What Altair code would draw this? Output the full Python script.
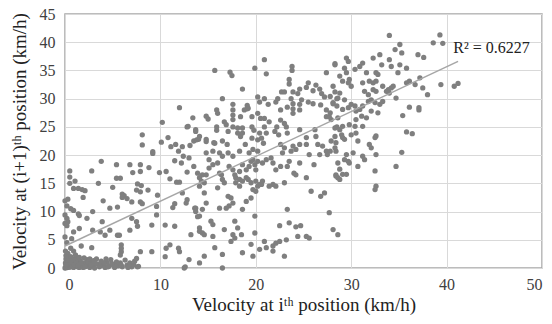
import altair as alt
import pandas as pd

# ---- data (x = velocity at i-th, y = velocity at (i+1)-th) ----
bottom_cluster = [(0,0),(0.1,0.3),(0.2,0.8),(0.3,0.1),(0.4,1.2),(0.5,0.5),(0.6,0.2),(0.7,1.5),(0.8,0.7),(0.9,0.1),
    (1.0,1.0),(1.1,0.4),(1.2,1.8),(1.3,0.2),(1.4,0.8),(1.5,0.1),(1.6,1.3),(1.8,0.5),(1.9,0.1),(2.0,0.9),
    (2.2,0.3),(2.3,1.5),(2.5,0.6),(2.6,0.1),(2.8,1.1),(3.0,0.4),(3.1,0.0),(3.3,1.6),(3.5,0.7),(3.6,0.2),
    (3.8,1.2),(4.0,0.5),(4.2,0.1),(4.4,1.0),(4.6,0.3),(4.8,1.5),(5.0,0.6),(5.2,0.1),(5.4,1.1),(5.6,0.4),
    (5.8,0.9),(6.0,0.2),(6.3,1.4),(6.5,0.5),(6.8,0.9),(7.0,0.2),(7.3,1.2),(0.1,2.2),(0.3,2.6),(0.6,3.5),
    (0.2,4.5),(0.1,1.6),(0.05,0.9),(0.15,0.05),(0.45,0.15),(0.25,1.9),(0.05,3.0),
    (0.35,0.6),(0.55,1.0),(0.75,0.3),(0.95,0.6),(1.15,1.3),(1.35,0.5),(1.7,0.9),(2.1,0.2),(2.4,1.0),(2.7,0.5),
    (3.2,0.8),(3.7,0.4),(4.1,0.9),(4.5,0.2),(4.9,0.8),(5.3,0.3),(5.9,0.5),(6.6,0.1),(7.2,0.6),(7.7,0.3),
    (0.1,0.6),(0.3,1.4),(0.6,2.0),(0.9,1.6),(1.1,2.3),(1.5,1.9),(2.0,1.8),(2.6,1.6),(3.0,1.3),(4.3,1.6)]

low_left = [(9.2,20.3),(3.8,18.9),(5.4,18.3),(6.8,18.3),(7.9,18.3),(7.9,17.1),(0.5,17.2),(0.5,16.1),(2.8,17.2),(7.1,16.9),
    (9.9,16.9),(10.6,17.1),(8.8,17.8),(5.4,15.9),(5.8,15.9),(1.05,15.4),(3.5,15.0),(5.0,14.3),(7.6,14.9),(8.0,14.6),
    (11.0,15.8),(11.7,15.2),(12.0,15.2),(0.9,14.1),(1.4,14.1),(1.8,13.9),(2.1,13.7),(0.5,15.0),(1.9,12.5),(7.5,13.8),
    (7.9,13.5),(8.7,13.8),(6.0,13.1),(6.2,12.8),(6.0,12.5),(6.5,12.3),(4.0,11.9),(4.7,10.6),(5.5,10.8),(7.0,11.7),
    (7.9,11.7),(8.1,11.4),(9.7,12.9),(9.6,10.9),(11.5,11.4),(11.3,10.7),(12.8,12.1),(13.6,10.6),(0.0,11.9),(0.3,12.2),
    (0.2,11.0),(0.6,10.5),(0.9,10.2),(0.0,9.4),(0.2,8.8),(0.3,8.2),(0.0,7.9),(0.2,7.5),(1.4,9.6),(1.5,9.3),
    (2.3,8.8),(2.9,10.0),(3.9,8.2),(4.7,6.7),(5.5,5.8),(5.7,5.8),(6.8,6.7),(7.0,8.8),(7.5,8.2),(7.6,7.4),
    (9.1,7.6),(9.6,9.4),(10.5,7.6),(11.5,7.4),(14.1,7.1),(13.7,10.6),(0.9,6.4),(1.5,7.0),(2.9,6.7),(3.7,6.4),
    (4.2,5.8),(0.0,5.5),(0.7,5.2),(1.7,3.9),(2.8,3.6),(0.9,3.0),(5.9,4.1),(5.9,3.5),(5.9,2.9),(5.8,2.3),
    (7.5,1.7),(7.9,2.9),(9.1,2.9),(10.6,3.5),(11.0,4.1),(11.9,3.5),(10.5,2.0),(12.6,0.2),(7.6,0.2),
    (13.0,1.5),(12.5,0.0),(12.0,2.9),(13.2,5.9),(12.3,13.3),(12.7,11.5),(13.7,10.0),(13.9,9.1),
    (12.4,19.8),(13.0,19.5),(12.2,18.6),(13.5,18.0),(12.8,17.0),(11.5,19.0),(13.9,16.8)]

mid_upper_left = [(12.0,28.4),(10.2,25.8),(13.4,26.6),(12.8,25.0),(13.7,24.5),(13.7,24.2),(8.1,23.6),(8.1,21.8),(10.8,23.1),(10.1,22.3),
    (11.6,21.9),(11.1,21.5),(12.3,21.5),(13.1,21.7),(13.5,22.5),(13.8,22.7),(14.0,22.8),(11.9,20.7),(9.2,20.6),
    (12.9,25.1),(15.0,26.4),(16.0,27.4),(17.6,28.0),(17.6,26.3),(18.8,28.0),(19.2,28.3),(14.8,22.4),(15.7,22.1),
    (16.9,25.4),(17.1,24.2),(18.1,24.8),(18.6,24.8)]

upper_mid = [(20.9,36.9),(19.9,35.4),(23.8,35.7),(23.8,35.0),(15.7,35.0),(17.3,34.7),(17.5,34.1),(21.1,34.4),(28.3,36.2),(27.4,34.6),
    (18.6,31.7),(23.5,33.4),(23.5,32.6),(25.5,32.8),(26.3,32.4),(16.5,30.0),(14.8,26.9),(15.9,28.0),(17.6,29.0),(19.1,28.8),
    (19.1,28.2),(20.2,30.3),(20.4,29.4),(20.9,30.0),(21.3,29.0),(22.7,31.2),(23.0,31.2),(22.3,30.0),(22.1,29.4),(23.9,31.2),
    (24.4,30.9),(24.6,31.7),(25.3,32.0),(26.0,31.4),(26.7,31.7),(26.9,30.9),(27.2,30.3),(23.7,30.0),(23.9,29.1),(24.8,29.8),
    (24.6,29.0),(25.5,29.4),(26.0,29.1),(23.3,28.5),(23.9,28.2),(24.6,28.0),(22.6,28.0),(28.3,31.2),(28.5,30.0),(28.1,29.1),
    (27.4,28.0),(27.7,26.8),(27.4,26.8),(26.8,28.9),(17.6,27.1),(18.4,26.8),(19.6,26.8),(20.2,27.4),(20.5,26.5),(20.9,26.5),
    (21.4,25.9),(22.6,26.2),(23.0,25.6),(23.2,25.0),(23.9,27.4),(22.2,25.0),(22.0,24.2),(22.4,23.6),(23.3,23.9),(24.6,24.5),
    (25.3,23.1),(26.2,24.5),(26.3,23.3),(26.5,21.9),(25.3,21.9),(28.5,25.0),(28.3,23.3),(27.9,22.5),(15.9,25.0),(15.9,24.4),
    (16.7,25.9),(17.6,25.0),(18.1,23.9),(18.4,23.3),(18.6,23.9),(19.6,25.0),(19.8,24.4),(20.4,23.9),(20.2,22.7),(20.9,25.0),
    (21.1,23.9),(20.6,23.0),(20.8,22.1),(19.6,23.0),(18.9,21.9),(16.5,22.5),(17.0,21.9),(15.6,22.2),(14.8,22.8),(14.1,23.3),
    (22.6,21.9),(23.0,21.3),(23.9,21.6),(24.6,21.9),(27.0,21.6)]

lower_mid = [(14.8,20.4),(15.5,20.7),(16.2,20.4),(16.5,19.8),(17.1,20.4),(17.6,19.8),(18.3,20.7),(19.3,20.4),(19.7,21.0),(20.2,20.7),
    (15.1,19.2),(15.5,18.3),(16.0,18.6),(15.1,17.7),(14.4,16.5),(14.8,16.5),(14.1,16.0),(16.4,16.5),(17.2,18.0),(17.6,17.4),
    (17.8,16.5),(18.3,17.1),(18.6,18.3),(19.0,17.4),(19.3,18.0),(19.5,18.9),(19.7,19.2),(19.9,18.3),(20.0,17.4),(20.2,18.9),
    (20.7,18.6),(21.1,19.2),(21.6,19.5),(21.8,18.6),(22.1,17.4),(22.6,18.0),(23.3,18.0),(23.5,18.9),(24.0,16.8),(24.2,16.5),
    (24.6,18.6),(25.3,16.0),(26.1,18.3),(25.6,20.1),(26.7,20.1),(27.4,20.7),(27.5,20.1),(28.4,20.7),(28.6,18.6),(28.4,16.5),
    (22.8,20.4),(23.7,20.7),(24.2,21.0),(17.9,16.0),(18.3,15.7),(18.6,15.4),(17.9,15.1),(18.3,14.5),(19.0,16.0),(19.2,15.7),
    (19.5,15.1),(20.0,15.4),(20.7,15.4),(20.2,14.5),(20.4,14.8),(19.7,13.9),(20.0,13.6),(16.2,16.8),(16.5,15.7),(16.7,15.1),
    (16.0,14.2),(14.6,13.3),(14.3,15.4),(14.6,15.1),(14.1,14.5),(21.4,14.5),(21.8,14.8),(22.1,14.5),(23.0,15.1),(20.6,14.8),
    (17.1,12.7),(17.4,12.4),(17.6,11.5),(17.2,11.0),(16.9,10.6),(16.2,10.6),(14.8,11.5),(14.4,10.4),(18.6,10.4),(19.0,11.8),
    (19.5,12.4),(25.8,13.6),(27.2,13.3),(26.8,12.7),(23.3,10.4),(27.7,9.8),(28.6,16.0),(14.1,9.2),(15.3,8.3),(15.5,7.7),
    (16.7,6.8),(17.8,8.3),(18.1,7.1),(19.9,9.2),(22.5,7.5),(23.5,8.0),(24.2,7.3),(24.7,7.5),(28.1,6.8),(28.6,5.9),
    (14.1,6.5),(14.4,6.2),(14.6,5.9),(15.5,5.6),(17.6,5.9),(17.8,5.3),(17.4,4.7),(18.5,5.9),(19.9,6.2),(20.9,4.7),
    (21.8,3.9),(22.1,4.4),(22.5,4.7),(23.2,5.0),(24.4,5.6),(25.3,5.6),(25.6,5.3),(19.5,4.2),(15.7,3.6),(16.5,2.4),
    (18.6,2.7),(19.7,2.1),(20.4,3.3),(21.1,3.6),(21.8,3.0),(23.0,2.1),(14.6,2.1),(16.5,0.0),(14.1,0.9)]

right_part = [(34.0,41.2),(39.3,41.3),(38.6,39.9),(39.6,39.8),(35.1,39.6),(34.6,38.7),(35.3,38.1),(37.0,37.8),(37.6,37.3),(32.3,37.2),
    (33.0,37.8),(31.2,36.3),(30.9,35.7),(28.3,36.0),(29.5,37.2),(29.7,36.6),(29.3,35.4),(29.5,34.6),(30.4,35.2),(33.2,36.0),
    (34.0,36.9),(35.1,36.0),(34.2,35.7),(35.8,35.4),(34.9,34.6),(32.8,34.3),(32.6,34.6),(31.6,34.6),(28.8,34.0),(29.1,33.1),
    (29.7,32.8),(29.8,33.4),(30.0,32.2),(28.1,32.2),(31.2,32.8),(31.9,33.1),(32.3,32.8),(32.6,33.1),(31.4,31.3),(31.8,30.7),
    (32.3,31.6),(32.6,31.3),(33.3,32.2),(33.9,31.6),(34.2,31.9),(33.7,31.3),(34.0,31.0),(34.4,32.2),(35.8,32.8),(36.1,33.1),
    (36.7,32.5),(37.2,33.7),(37.5,31.9),(38.0,30.7),(39.4,32.5),(40.8,32.2),(41.2,32.7),(34.7,30.1),(36.1,28.5),(37.1,28.4),
    (37.1,28.0),(35.4,27.0),(35.8,24.1),(36.4,23.8),(27.8,30.4),(28.6,30.1),(28.8,31.0),(29.3,29.8),(28.1,29.3),(28.5,28.7),
    (29.1,28.1),(29.7,28.4),(30.0,29.0),(30.4,28.7),(30.5,27.8),(30.9,28.1),(31.2,28.7),(31.8,29.5),(32.1,29.8),(32.5,29.3),
    (33.0,29.0),(33.3,29.5),(32.8,27.5),(32.1,27.8),(31.6,26.6),(31.1,26.9),(30.5,26.3),(29.8,25.4),(30.4,25.1),(31.2,25.1),
    (30.0,23.6),(30.5,23.9),(29.1,25.1),(28.8,24.5),(28.3,24.8),(27.9,26.3),(27.8,27.5),(28.6,26.6),(29.0,23.6),(29.1,23.1),
    (28.4,22.2),(28.3,21.3),(29.3,22.8),(30.7,22.5),(31.9,21.9),(32.1,21.3),(32.6,23.4),(32.5,23.1),(27.8,20.7),(29.5,20.1),
    (30.2,20.4),(29.7,18.9),(29.3,19.2),(29.8,18.6),(31.2,19.8),(31.4,19.2),(32.6,20.1),(35.3,20.5),(34.7,18.0),(30.7,18.0),
    (28.8,17.5),(29.1,16.6),(28.4,16.3),(28.8,15.7),(29.5,16.6),(32.5,17.2),(32.6,14.5),(32.5,13.9)]

y_ticks = [0, 5, 10, 15, 20, 25, 30, 35, 40, 45]
x_ticks = [0, 10, 20, 30, 40, 50]
trend_x = [0, 41.2]
trend_y = [3.9, 36.6]
r2_label = "R² = 0.6227"

pts = bottom_cluster + low_left + mid_upper_left + upper_mid + lower_mid + right_part
df = pd.DataFrame(pts, columns=["x", "y"])
trend = pd.DataFrame({"x": trend_x, "y": trend_y})
lab = pd.DataFrame({"x": [40.7], "y": [39.0], "t": [r2_label]})

FONT = "Liberation Serif"
xs = alt.Scale(domain=[0, 50], nice=False, zero=False)
ys = alt.Scale(domain=[0, 45], nice=False, zero=False)

xax = alt.Axis(values=x_ticks, grid=True, ticks=False, domain=False,
               labelFont=FONT, labelFontSize=16, labelColor="#404040", labelPadding=8,
               title="Velocity at iᵗʰ position (km/h)", titleFont=FONT, titleFontSize=19,
               titleFontWeight="normal", titleColor="#222222", titlePadding=3)
yax = alt.Axis(values=y_ticks, grid=True, ticks=False, domain=False,
               labelFont=FONT, labelFontSize=16, labelColor="#404040", labelPadding=10,
               title="Velocity at (i+1)ᵗʰ position (km/h)", titleFont=FONT, titleFontSize=19,
               titleFontWeight="normal", titleColor="#222222", titlePadding=10)

points = alt.Chart(df).mark_circle(size=28, color="#7f7f7f", opacity=1).encode(
    x=alt.X("x:Q", scale=xs, axis=xax),
    y=alt.Y("y:Q", scale=ys, axis=yax),
)
line = alt.Chart(trend).mark_line(color="#a6a6a6", strokeWidth=1.5).encode(
    x=alt.X("x:Q", scale=xs, axis=xax), y=alt.Y("y:Q", scale=ys, axis=yax)
)
text = alt.Chart(lab).mark_text(align="left", baseline="middle", font=FONT, fontSize=16, color="#222222").encode(
    x=alt.X("x:Q", scale=xs, axis=xax), y=alt.Y("y:Q", scale=ys, axis=yax), text="t:N"
)

chart = (points + line + text).properties(
    width=477, height=254,
    autosize=alt.AutoSizeParams(type="none"),
    padding={"left": 65, "top": 14, "right": 10, "bottom": 56},
).configure_view(stroke="#a6a6a6", strokeWidth=1.5).configure_axis(
    gridColor="#d9d9d9", gridWidth=1
)

chart.save("out.html", embed_options={"renderer": "svg", "actions": False})
